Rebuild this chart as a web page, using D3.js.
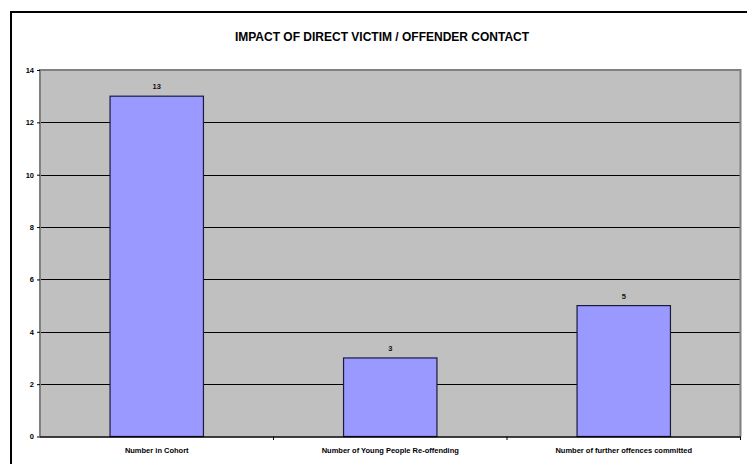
<!DOCTYPE html>
<html>
<head>
<meta charset="utf-8">
<script src="https://cdn.jsdelivr.net/npm/d3@7"></script>
<style>
  body { margin: 0; background: #fff; }
  svg { font-family: Arial, "Liberation Sans", sans-serif; }
</style>
</head>
<body>
<svg width="747" height="464"></svg>
<script>
// chart data
var categories = ["Number in Cohort", "Number of Young People Re-offending", "Number of further offences committed"];
var values = [13, 3, 5];
var yTicks = [0, 2, 4, 6, 8, 10, 12, 14];
var title = "IMPACT OF DIRECT VICTIM / OFFENDER CONTACT";

var svg = d3.select("svg");
// note: "top" is reserved on window, so use plot* names
var plotL = 40, plotR = 740.5, plotT = 70, plotB = 436.5;

// outer chart frame (right/bottom sides fall outside the picture)
svg.append("path")
  .attr("d", "M11,470 L11,12 L760,12")
  .attr("fill", "none")
  .attr("stroke", "#000")
  .attr("stroke-width", 2);

svg.append("text")
  .attr("x", 382).attr("y", 41)
  .attr("text-anchor", "middle")
  .attr("font-size", 12).attr("font-weight", "bold")
  .text(title);

var x = d3.scaleBand().domain(categories).range([plotL, plotR])
  .paddingInner(0.6).paddingOuter(0.3);
var y = d3.scaleLinear().domain([0, 14]).range([plotB, plotT]);

// plot background
svg.append("rect")
  .attr("x", plotL).attr("y", plotT)
  .attr("width", plotR - plotL).attr("height", plotB - plotT)
  .attr("fill", "#c0c0c0");

// gridlines
svg.append("g").selectAll("line")
  .data(yTicks.filter(d => d > 0 && d < 14))
  .join("line")
  .attr("x1", plotL).attr("x2", plotR)
  .attr("y1", d => Math.round(y(d)) + 0.5).attr("y2", d => Math.round(y(d)) + 0.5)
  .attr("stroke", "#000").attr("stroke-width", 1);

// plot border (gray) top, left, right
svg.append("path")
  .attr("d", "M" + plotL + "," + plotB + " L" + plotL + "," + plotT + " L" + plotR + "," + plotT + " L" + plotR + "," + plotB)
  .attr("fill", "none")
  .attr("stroke", "#808080")
  .attr("stroke-width", 2);

// bars
svg.append("g").selectAll("rect")
  .data(values)
  .join("rect")
  .attr("x", (d, i) => x(categories[i]))
  .attr("y", d => y(d))
  .attr("width", x.bandwidth())
  .attr("height", d => y(0) - y(d))
  .attr("fill", "#9999ff")
  .attr("stroke", "#1a1a40")
  .attr("stroke-width", 1.2);

// value labels
svg.append("g").selectAll("text")
  .data(values)
  .join("text")
  .attr("x", (d, i) => x(categories[i]) + x.bandwidth() / 2)
  .attr("y", d => y(d) - 7)
  .attr("text-anchor", "middle")
  .attr("font-size", 7.5).attr("font-weight", "bold")
  .attr("fill", "#111")
  .text(d => d);

// y axis
var yAxis = d3.axisLeft(y).tickValues(yTicks).tickSize(3).tickPadding(3);
var gy = svg.append("g").attr("transform", "translate(" + plotL + ",0)").call(yAxis);
gy.select(".domain").remove();
gy.selectAll("text").attr("font-size", 7.5).attr("font-weight", "bold")
  .attr("font-family", "Arial, 'Liberation Sans', sans-serif").attr("fill", "#000");

// x axis
var xAxis = d3.axisBottom(x).tickSize(0).tickPadding(11);
var gx = svg.append("g").attr("transform", "translate(0," + plotB + ")").call(xAxis);
gx.select(".domain").attr("d", "M" + plotL + ",0.5H" + plotR).attr("stroke", "#000").attr("stroke-width", 1.5);
gx.selectAll("text").attr("font-size", 7.5).attr("font-weight", "bold")
  .attr("font-family", "Arial, 'Liberation Sans', sans-serif").attr("fill", "#000");

// category separator ticks
var step = x.step();
svg.append("g").selectAll("line")
  .data(categories.slice(1).concat(["end"]))
  .join("line")
  .attr("x1", (d, i) => plotL + step * (i + 1)).attr("x2", (d, i) => plotL + step * (i + 1))
  .attr("y1", plotB).attr("y2", plotB + 3.5)
  .attr("stroke", "#000");
</script>
</body>
</html>
